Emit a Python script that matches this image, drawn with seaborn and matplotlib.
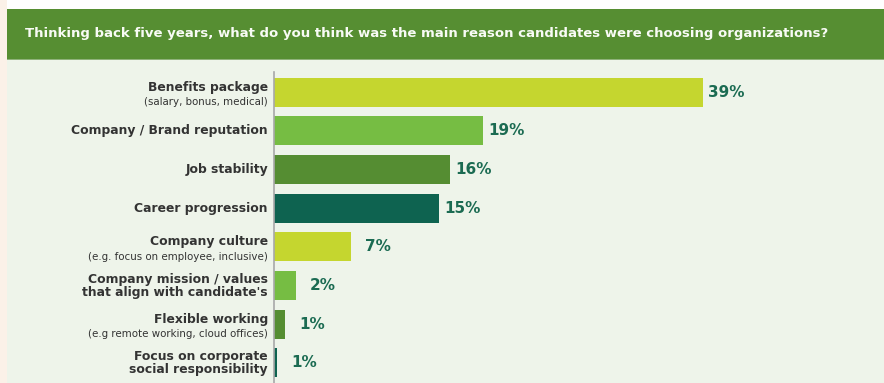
import matplotlib
matplotlib.use("Agg")
import matplotlib.pyplot as plt
from matplotlib.patches import Rectangle
import matplotlib.transforms as mtransforms
import seaborn as sns
import pandas as pd

# ---- data ----
categories = [
    "Benefits package",
    "Company / Brand reputation",
    "Job stability",
    "Career progression",
    "Company culture",
    "Company mission / values\nthat align with candidate's",
    "Flexible working",
    "Focus on corporate\nsocial responsibility",
]
subtitles = [
    "(salary, bonus, medical)",
    "",
    "",
    "",
    "(e.g. focus on employee, inclusive)",
    "",
    "(e.g remote working, cloud offices)",
    "",
]
values = [39, 19, 16, 15, 7, 2, 1, 0.3]          # bar lengths as drawn
value_labels = ["39%", "19%", "16%", "15%", "7%", "2%", "1%", "1%"]
bar_colors = ["#C5D62F", "#76BD43", "#558D32", "#0E6350",
              "#C5D62F", "#76BD43", "#558D32", "#0E6350"]
title = "Thinking back five years, what do you think was the main reason candidates were choosing organizations?"

df = pd.DataFrame({"category": categories, "value": values})

W, H = 884, 383
fig = plt.figure(figsize=(W / 100, H / 100), dpi=100)
fig.patch.set_facecolor("white")

def fr(x0, y0, x1, y1, color):
    fig.patches.append(Rectangle((x0 / W, 1 - y1 / H), (x1 - x0) / W, (y1 - y0) / H,
                                 transform=fig.transFigure, facecolor=color,
                                 edgecolor="none", zorder=-10))

fr(0, 0, 7, H, "#FBF1E8")
fr(7, 9, W, 59, "#568E32")
fr(7, 59, W, 60, "#8FB27A")
fr(7, 60, W, H, "#EEF4EA")

fig.text(25 / W, 1 - 34 / H, title, color="#F8FBF5", fontsize=9.5,
         fontweight="bold", ha="left", va="center")

ax_left, ax_top = 274, 72
ax = fig.add_axes([ax_left / W, 0, (W - ax_left) / W, (H - ax_top) / H])
ax.set_facecolor("none")

sns.barplot(data=df, y="category", x="value", hue="category", palette=bar_colors,
            legend=False, orient="h", width=0.75, ax=ax, saturation=1)

ax.set_xlim(0, (W - ax_left) / 11.0)
ax.set_ylim(len(categories) - 0.48, -0.52)
ax.set_xlabel("")
ax.set_ylabel("")
ax.set_xticks([])
ax.set_yticks([])
for s in ["top", "right", "bottom"]:
    ax.spines[s].set_visible(False)
ax.spines["left"].set_color("#A8A8A8")
ax.spines["left"].set_linewidth(1.2)

trans = mtransforms.blended_transform_factory(ax.transAxes, ax.transData)
label_color = "#333333"
main_fs, sub_fs = 8.9, 7.4
for i, (cat, sub) in enumerate(zip(categories, subtitles)):
    if sub:
        ax.annotate(cat, xy=(0, i), xycoords=trans, xytext=(-6, 5),
                    textcoords="offset pixels", ha="right", va="center",
                    fontsize=main_fs, fontweight="bold", color=label_color)
        ax.annotate(sub, xy=(0, i), xycoords=trans, xytext=(-6, -10),
                    textcoords="offset pixels", ha="right", va="center",
                    fontsize=sub_fs, color=label_color)
    else:
        ax.annotate(cat, xy=(0, i), xycoords=trans, xytext=(-6, 0),
                    textcoords="offset pixels", ha="right", va="center",
                    fontsize=main_fs, fontweight="bold", color=label_color,
                    linespacing=1.0)

for i, (v, lab) in enumerate(zip(values, value_labels)):
    off = 14 if v < 10 else 5
    ax.annotate(lab, xy=(v, i), xycoords="data", xytext=(off, 0),
                textcoords="offset pixels", ha="left", va="center",
                fontsize=11, fontweight="bold", color="#1B6B52")

fig.savefig("out.png", dpi=100)
